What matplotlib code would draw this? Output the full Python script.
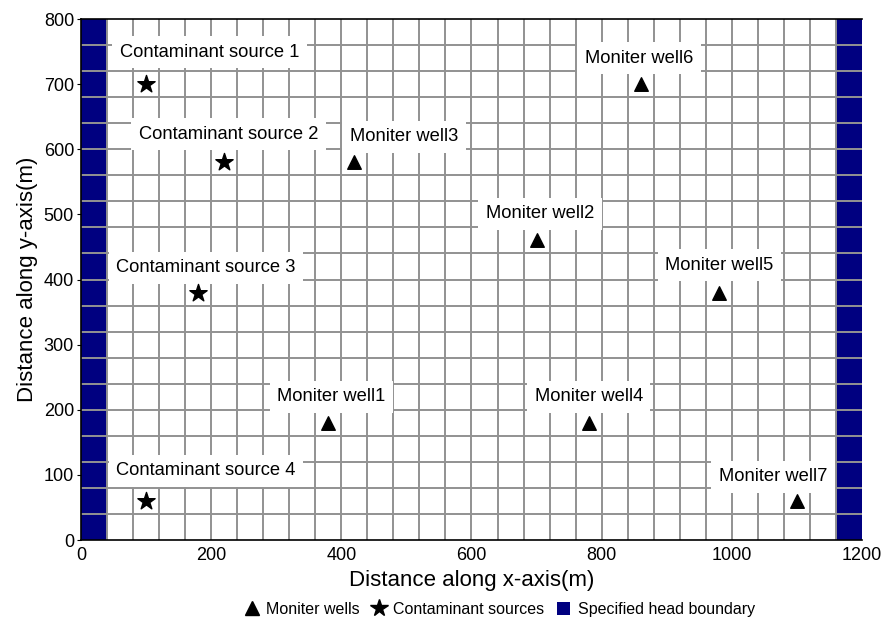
import matplotlib
matplotlib.use("Agg")
import matplotlib.pyplot as plt
import numpy as np
from matplotlib.lines import Line2D
from matplotlib.patches import Patch

plt.rcParams['font.family'] = ['Liberation Sans', 'DejaVu Sans']

# Data
source_names = ["Contaminant source 1", "Contaminant source 2", "Contaminant source 3", "Contaminant source 4"]
source_x = [100, 220, 180, 100]
source_y = [700, 580, 380, 60]

well_names = ["Moniter well1", "Moniter well2", "Moniter well3", "Moniter well4",
              "Moniter well5", "Moniter well6", "Moniter well7"]
well_x = [380, 700, 420, 780, 980, 860, 1100]
well_y = [180, 460, 580, 180, 380, 700, 60]

boundary_left = (0, 40)
boundary_right = (1160, 1200)
cell_size = 40

# label anchor positions (layout)
source_label_xy = [(198, 749), (227, 623), (192, 418), (192, 106)]
well_label_xy = [(385, 220), (705, 501), (496, 619), (780, 220), (981, 422), (857, 740), (1063, 97)]

fig = plt.figure(figsize=(8.85, 6.19), dpi=100)
ax = fig.add_axes([0.0915, 0.1276, 0.8825, 0.8417])

navy = "#000080"
ax.axvspan(*boundary_left, color=navy, zorder=1, lw=0)
ax.axvspan(*boundary_right, color=navy, zorder=1, lw=0)

ax.set_xlim(0, 1200)
ax.set_ylim(0, 800)
ax.set_xticks(np.arange(0, 1201, 200))
ax.set_yticks(np.arange(0, 801, 100))

grid_x = np.arange(0, 1201, cell_size)
grid_y = np.arange(0, 801, cell_size)
ax.vlines(grid_x[1:-1], 0, 800, colors='#929292', lw=1.4, zorder=2)
ax.hlines(grid_y[1:-1], 0, 1200, colors='#929292', lw=1.4, zorder=2)
ax.tick_params(axis='y', length=3, labelsize=13, direction='out', pad=2)
ax.tick_params(axis='x', length=0, labelsize=13, pad=5)

for sp in ax.spines.values():
    sp.set_linewidth(1.2)
    sp.set_zorder(5)
ax.spines['right'].set_visible(False)

ax.scatter(source_x, source_y, marker='*', s=170, color='black', zorder=6)
ax.scatter(well_x, well_y, marker='^', s=95, color='black', zorder=6)

bbox = dict(boxstyle='square,pad=0.42', fc='white', ec='none')
for name, (lx, ly) in zip(source_names, source_label_xy):
    ax.text(lx, ly, name, ha='center', va='center', fontsize=13.2, bbox=bbox, zorder=4)
for name, (lx, ly) in zip(well_names, well_label_xy):
    ax.text(lx, ly, name, ha='center', va='center', fontsize=13.2, bbox=bbox, zorder=4)

ax.set_xlabel("Distance along x-axis(m)", fontsize=16, labelpad=4)
ax.set_ylabel("Distance along y-axis(m)", fontsize=16, labelpad=4)

handles = [
    Line2D([], [], marker='^', color='black', ls='none', markersize=10),
    Line2D([], [], marker='*', color='black', ls='none', markersize=13),
    Patch(facecolor=navy, edgecolor='none'),
]
labels = ["Moniter wells", "Contaminant sources", "Specified head boundary"]
fig.legend(handles, labels, loc='center', bbox_to_anchor=(0.565, 0.016), ncol=3,
           frameon=False, fontsize=11.5, handlelength=0.8, handletextpad=0.5,
           columnspacing=0.8, handleheight=0.9)

fig.savefig("out.png", dpi=100)
